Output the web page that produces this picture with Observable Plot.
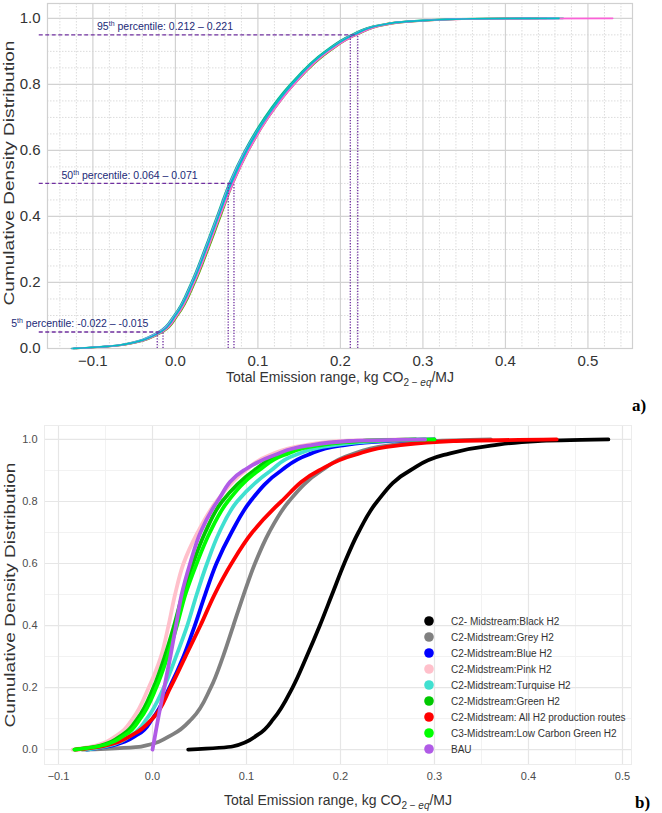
<!DOCTYPE html>
<html><head><meta charset="utf-8">
<script src="https://cdn.jsdelivr.net/npm/d3@7"></script>
<script src="https://cdn.jsdelivr.net/npm/@observablehq/plot@0.6"></script>
<style>
body{margin:0;background:#fff;font-family:"Liberation Sans",Arial,sans-serif;}
#wrap{width:662px;height:813px;overflow:hidden;}
svg{display:block}
</style></head><body><div id="wrap"></div>
<script>
// ---------- Panel a data ----------
const probA = [0, 0.01, 0.05, 0.1, 0.2, 0.3, 0.4, 0.5, 0.6, 0.7, 0.8, 0.9, 0.95, 0.98, 0.99, 0.999, 1];
const colorsA = ["#F8766D", "#C49A00", "#53B400", "#00C094", "#00B6EB", "#A58AFF", "#FB61D7", "#00BFC4"];
const a1 = [-0.122, -0.066, -0.016, 0.002, 0.023, 0.039, 0.054, 0.069, 0.088, 0.112, 0.143, 0.186, 0.219, 0.253, 0.284, 0.370, 0.450];
const a2 = [-0.124, -0.068, -0.019, -0.001, 0.020, 0.036, 0.051, 0.066, 0.085, 0.109, 0.140, 0.182, 0.214, 0.248, 0.278, 0.350, 0.420];
const a3 = [-0.120, -0.065, -0.015, 0.003, 0.024, 0.040, 0.055, 0.070, 0.089, 0.113, 0.144, 0.187, 0.220, 0.255, 0.286, 0.360, 0.440];
const a4 = [-0.126, -0.070, -0.021, -0.002, 0.019, 0.035, 0.050, 0.065, 0.084, 0.108, 0.139, 0.181, 0.213, 0.247, 0.277, 0.340, 0.470];
const a5 = [-0.123, -0.067, -0.017, 0.001, 0.022, 0.038, 0.053, 0.068, 0.087, 0.111, 0.142, 0.184, 0.217, 0.251, 0.281, 0.360, 0.430];
const a6 = [-0.125, -0.069, -0.020, -0.001, 0.020, 0.036, 0.051, 0.066, 0.085, 0.110, 0.141, 0.183, 0.215, 0.249, 0.279, 0.350, 0.460];
const a7 = [-0.121, -0.066, -0.016, 0.002, 0.023, 0.039, 0.054, 0.070, 0.089, 0.113, 0.144, 0.186, 0.220, 0.254, 0.285, 0.370, 0.530];
const a8 = [-0.124, -0.068, -0.018, 0.000, 0.021, 0.037, 0.052, 0.067, 0.086, 0.110, 0.141, 0.183, 0.216, 0.250, 0.280, 0.360, 0.465];
const seriesA = [a1, a2, a3, a4, a5, a6, a7, a8];

const pctName = ["5th", "50th", "95th"];
const pctProb = [0.05, 0.5, 0.95];
const pctLow = [-0.022, 0.064, 0.212];
const pctHigh = [-0.015, 0.071, 0.221];

const xTicksA = [-0.1, 0, 0.1, 0.2, 0.3, 0.4, 0.5];
const yTicksA = [0, 0.2, 0.4, 0.6, 0.8, 1.0];

// ---------- Panel b data ----------
const probB = [0, 0.01, 0.05, 0.1, 0.2, 0.3, 0.4, 0.5, 0.6, 0.7, 0.8, 0.9, 0.95, 0.98, 0.995, 1];
const namesB = ["C2- Midstream:Black H2", "C2-Midstream:Grey H2", "C2-Midstream:Blue H2", "C2-Midstream:Pink H2",
  "C2-Midstream:Turquise H2", "C2-Midstream:Green H2", "C2-Midstream: All H2 production routes",
  "C3-Midstream:Low Carbon Green H2", "BAU"];
const colorsB = ["#000000", "#808080", "#0000FF", "#FFC0CB", "#40E0D0", "#00C800", "#FF0000", "#00FF00", "#B05BE6"];
const bBlack = [0.038, 0.085, 0.113, 0.129, 0.149, 0.164, 0.178, 0.191, 0.204, 0.219, 0.239, 0.274, 0.310, 0.360, 0.410, 0.485];
const bGrey = [-0.075, -0.012, 0.022, 0.042, 0.062, 0.075, 0.086, 0.097, 0.109, 0.124, 0.145, 0.180, 0.210, 0.250, 0.300, 0.360];
const bBlue = [-0.070, -0.048, -0.015, 0.000, 0.018, 0.033, 0.045, 0.056, 0.068, 0.084, 0.104, 0.137, 0.165, 0.200, 0.250, 0.300];
const bPink = [-0.085, -0.065, -0.036, -0.021, -0.004, 0.009, 0.017, 0.024, 0.033, 0.048, 0.068, 0.099, 0.125, 0.160, 0.200, 0.270];
const bTurq = [-0.070, -0.050, -0.021, -0.006, 0.012, 0.025, 0.037, 0.047, 0.058, 0.071, 0.090, 0.126, 0.152, 0.190, 0.240, 0.290];
const bGreen = [-0.083, -0.060, -0.031, -0.016, 0.001, 0.013, 0.023, 0.032, 0.043, 0.056, 0.074, 0.108, 0.135, 0.170, 0.220, 0.280];
const bRed = [-0.082, -0.055, -0.020, 0.000, 0.019, 0.035, 0.051, 0.066, 0.084, 0.106, 0.137, 0.177, 0.215, 0.260, 0.320, 0.430];
const bLime = [-0.083, -0.058, -0.028, -0.013, 0.004, 0.016, 0.026, 0.035, 0.047, 0.061, 0.080, 0.113, 0.140, 0.175, 0.220, 0.300];
const bBAU = [0.000, 0.0006, 0.003, 0.006, 0.0125, 0.019, 0.025, 0.031, 0.040, 0.051, 0.069, 0.097, 0.130, 0.165, 0.210, 0.290];
const seriesB = [bBlack, bGrey, bBlue, bPink, bTurq, bGreen, bRed, bLime, bBAU];

const xTicksB = [-0.1, 0, 0.1, 0.2, 0.3, 0.4, 0.5];
const yTicksB = [0, 0.2, 0.4, 0.6, 0.8, 1.0];

const FONT = '"Liberation Sans", Arial, sans-serif';
const fmt = d3.format(".1f");

// ---------- Panel a ----------
const minorXA = d3.range(-0.14, 0.555, 0.02).filter(v => !xTicksA.some(t => Math.abs(t - v) < 1e-6));
const minorYA = d3.range(0.05, 1.04, 0.05).filter(v => !yTicksA.some(t => Math.abs(t - v) < 1e-6));

const linesA = seriesA.map((arr, k) => Plot.line(probA.map((p, i) => ({p, v: arr[i]})),
  {x: "v", y: "p", stroke: colorsA[k], strokeWidth: 1.6, curve: "monotone-y"}));

const pctRows = pctName.map((n, i) => ({n, p: pctProb[i], lo: pctLow[i], hi: pctHigh[i],
  label: `${n} percentile: ${pctLow[i].toFixed(3)} – ${pctHigh[i].toFixed(3)}`}));
const labelStart = [-0.199, -0.138, -0.095]; // layout: where each annotation text begins

const svgA = Plot.plot({
  width: 662, height: 420,
  marginTop: 3, marginBottom: 72, marginLeft: 47, marginRight: 30,
  style: {fontSize: "15px", fontFamily: FONT, color: "#333", background: "white", overflow: "visible"},
  x: {domain: [-0.155, 0.554]},
  y: {domain: [0, 1.045]},
  marks: [
    Plot.gridX(minorXA, {stroke: "#dcdcdc", strokeOpacity: 1, strokeDasharray: "1.5,1.5"}),
    Plot.gridY(minorYA, {stroke: "#dcdcdc", strokeOpacity: 1, strokeDasharray: "1.5,1.5"}),
    Plot.gridX(xTicksA, {stroke: "#d2d2d2", strokeOpacity: 1, strokeWidth: 1.2}),
    Plot.gridY(yTicksA, {stroke: "#d2d2d2", strokeOpacity: 1, strokeWidth: 1.2}),
    Plot.frame({stroke: "#d0d0d0", strokeWidth: 1.2}),
    Plot.axisX(xTicksA, {tickSize: 0, tickPadding: 7, tickFormat: fmt, label: null}),
    Plot.axisY(yTicksA, {tickSize: 0, tickPadding: 7, tickFormat: fmt, label: null}),
    ...linesA,
    Plot.ruleY(pctRows, {y: "p", x1: -0.165, x2: "hi", stroke: "#7030A0", strokeWidth: 1.3, strokeDasharray: "4,2.5"}),
    Plot.ruleX(pctRows, {x: "lo", y1: 0, y2: "p", stroke: "#7030A0", strokeWidth: 1.3, strokeDasharray: "1.3,1.5"}),
    Plot.ruleX(pctRows, {x: "hi", y1: 0, y2: "p", stroke: "#7030A0", strokeWidth: 1.3, strokeDasharray: "1.3,1.5"}),
    Plot.text(pctRows, {x: (d, i) => labelStart[i], y: "p", text: "label", textAnchor: "start", dy: -8,
      fill: "#1B2A78", fontSize: 10.5})
  ]
});

// ---------- Panel b ----------
const minorXB = [-0.05, 0.05, 0.15, 0.25, 0.35, 0.45];
const minorYB = [0.1, 0.3, 0.5, 0.7, 0.9];
const linesB = seriesB.map((arr, k) => Plot.line(probB.map((p, i) => ({p, v: arr[i]})),
  {x: "v", y: "p", stroke: colorsB[k], strokeWidth: 3.8, curve: "monotone-y", strokeLinecap: "round"}));

const svgB = Plot.plot({
  width: 662, height: 393,
  marginTop: 5, marginBottom: 49, marginLeft: 44, marginRight: 31,
  style: {fontSize: "11px", fontFamily: FONT, color: "#4d4d4d", background: "white", overflow: "visible"},
  x: {domain: [-0.1149, 0.5096]},
  y: {domain: [-0.048, 1.045]},
  marks: [
    Plot.gridX(minorXB, {stroke: "#f2f2f2", strokeOpacity: 1}),
    Plot.gridY(minorYB, {stroke: "#f2f2f2", strokeOpacity: 1}),
    Plot.gridX(xTicksB, {stroke: "#e6e6e6", strokeOpacity: 1, strokeWidth: 1.2}),
    Plot.gridY(yTicksB, {stroke: "#e6e6e6", strokeOpacity: 1, strokeWidth: 1.2}),
    Plot.frame({stroke: "#ececec"}),
    Plot.axisX(xTicksB, {tickSize: 0, tickPadding: 8, tickFormat: fmt, label: null}),
    Plot.axisY(yTicksB, {tickSize: 0, tickPadding: 7, tickFormat: fmt, label: null}),
    ...linesB
  ]
});

const wrap = document.getElementById("wrap");
wrap.appendChild(svgA);
wrap.appendChild(svgB);

// superscripts in the percentile labels
d3.select(svgA).selectAll("text").each(function () {
  const m = this.textContent.match(/^(\d+)(th)( percentile:.*)$/);
  if (m) {
    const s = d3.select(this); s.text(null);
    s.append("tspan").text(m[1]);
    s.append("tspan").attr("font-size", "7px").attr("dy", "-4").text(m[2]);
    s.append("tspan").attr("dy", "4").text(m[3]);
  }
});

function xTitle(svg, cx, y, color) {
  const t = d3.select(svg).append("text").attr("x", cx).attr("y", y).attr("text-anchor", "middle")
    .attr("font-size", 14).attr("font-family", FONT).attr("fill", color);
  t.append("tspan").text("Total Emission range, kg CO");
  t.append("tspan").attr("font-size", 10).attr("dy", 3.5).text("2 − ");
  t.append("tspan").attr("font-size", 10).attr("font-style", "italic").text("eq");
  t.append("tspan").attr("dy", -3.5).text("/MJ");
}
function yTitle(svg, cy, bx, color) {
  d3.select(svg).append("text").attr("transform", `translate(${bx},${cy}) rotate(-90)`)
    .attr("text-anchor", "middle").attr("font-size", 14).attr("font-family", FONT).attr("fill", color)
    .attr("textLength", 265).attr("lengthAdjust", "spacingAndGlyphs")
    .text("Cumulative Density Distribution");
}
function tag(svg, x, y, s) {
  d3.select(svg).append("text").attr("x", x).attr("y", y).attr("font-size", 17).attr("font-weight", "bold")
    .attr("text-anchor", "start")
    .attr("font-family", '"Liberation Serif", "Times New Roman", serif').attr("fill", "#000").text(s);
}
xTitle(svgA, 340, 382, "#333");
yTitle(svgA, 173, 14, "#333");
tag(svgA, 632, 411, "a)");

xTitle(svgB, 338, 385, "#333");
yTitle(svgB, 175, 15, "#333");
tag(svgB, 635, 388, "b)");

// legend for panel b
const lg = d3.select(svgB).append("g").attr("text-anchor", "start");
namesB.forEach((n, i) => {
  const yy = 201 + i * 16;
  lg.append("circle").attr("cx", 429).attr("cy", yy).attr("r", 4.8).attr("fill", colorsB[i]);
  lg.append("text").attr("x", 451).attr("y", yy).attr("dy", "0.35em").attr("font-size", 10)
    .attr("text-anchor", "start")
    .attr("font-family", FONT).attr("fill", "#333").text(n);
});
</script></body></html>
